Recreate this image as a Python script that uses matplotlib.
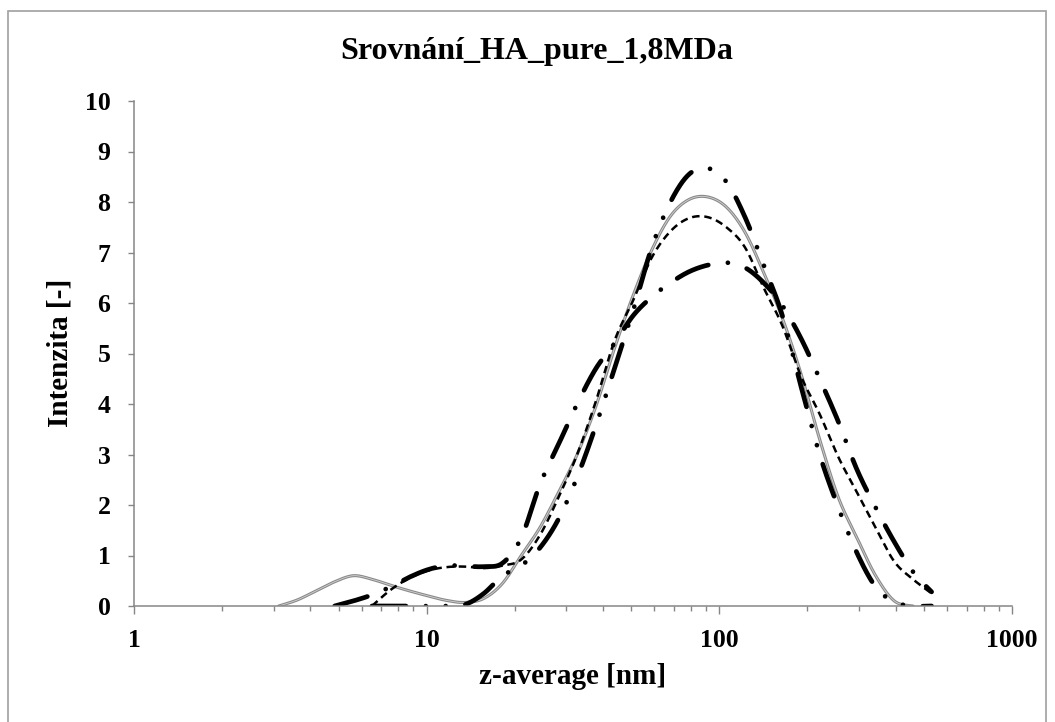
import numpy as np
import matplotlib
matplotlib.use("Agg")
import matplotlib.pyplot as plt
from matplotlib.patches import Rectangle

plt.rcParams['font.family'] = ['Liberation Serif', 'DejaVu Serif']
plt.rcParams['font.weight'] = 'bold'

title = 'Srovnání_HA_pure_1,8MDa'
x_label = 'z-average [nm]'
y_label = 'Intenzita [-]'

# size classes (nm)
sizes = [3.122, 3.615, 4.187, 4.849, 5.615, 6.503, 7.531, 8.721, 10.1, 11.7,
         13.54, 15.69, 18.17, 21.04, 24.36, 28.21, 32.67, 37.84, 43.82, 50.75,
         58.77, 68.06, 78.82, 91.28, 105.7, 122.4, 141.8, 164.2, 190.1, 220.2,
         255.0, 295.3, 342.0, 396.1, 458.7, 531.2]

# gray solid, sizes[0:35]
gray_y = [0, 0.12, 0.3, 0.48, 0.6, 0.53, 0.41, 0.3, 0.2, 0.11,
          0.07, 0.15, 0.45, 1.0, 1.55, 2.25, 3.0, 3.95, 5.1, 6.15,
          7.05, 7.72, 8.05, 8.1, 7.9, 7.4, 6.6, 5.7, 4.6, 3.3,
          2.15, 1.35, 0.6, 0.1, 0]

# thin dashed, sizes[5:36]
dash_y = [0, 0.32, 0.55, 0.7, 0.77, 0.78, 0.75, 0.8, 0.92, 1.4,
          2.15, 3.0, 4.05, 5.25, 6.05, 6.9, 7.42, 7.68, 7.7, 7.5,
          7.1, 6.3, 5.55, 4.55, 3.8, 2.95, 2.25, 1.55, 0.88, 0.53,
          0.25]

# long dash + dot, sizes[3:36]
dashdot_y = [0, 0.1, 0.22, 0.38, 0.57, 0.72, 0.8, 0.79, 0.78, 0.85,
             1.35, 2.4, 3.2, 4.0, 4.7, 5.2, 5.75, 6.12, 6.4, 6.62,
             6.75, 6.8, 6.7, 6.4, 5.95, 5.3, 4.5, 3.65, 2.7, 1.95,
             1.27, 0.68, 0.28]

# long dash + two dots, sizes[5:36]
dashdotdot_y = [0, 0, 0, 0, 0, 0.03, 0.25, 0.6, 0.8, 1.15,
                1.72, 2.55, 3.57, 4.7, 5.85, 7.1, 8.0, 8.55, 8.67, 8.4,
                7.7, 6.75, 5.75, 4.35, 3.0, 1.95, 1.05, 0.38, 0.08, 0,
                0]


def smooth(x, y, n=24):
    # Excel-like smoothed line (Catmull-Rom bezier in log-x / y space)
    p = np.column_stack([np.log10(x), y])
    ext = np.vstack([p[0], p, p[-1]])
    t = np.linspace(0, 1, n)[:, None]
    out = []
    for i in range(len(p) - 1):
        p0, p1, p2, p3 = ext[i], ext[i + 1], ext[i + 2], ext[i + 3]
        b1 = p1 + (p2 - p0) / 6
        b2 = p2 - (p3 - p1) / 6
        seg = ((1 - t) ** 3) * p1 + 3 * ((1 - t) ** 2) * t * b1 + 3 * (1 - t) * t ** 2 * b2 + t ** 3 * p2
        out.append(seg if i == 0 else seg[1:])
    out = np.vstack(out)
    return 10 ** out[:, 0], out[:, 1]


fig = plt.figure(figsize=(10.55, 7.22), dpi=100)
ax = fig.add_axes([134 / 1055, 116 / 722, 878 / 1055, 505 / 722])

xs, ys = smooth(sizes[0:35], gray_y)
ax.plot(xs, ys, color='#8a8a8a', lw=2.2, solid_capstyle='round')
ax.plot(xs, ys, color='#d2d2d2', lw=0.6)

xs, ys = smooth(sizes[5:36], dash_y)
ax.plot(xs, ys, color='black', lw=1.8, linestyle=(0, (3.0, 1.9)), dash_capstyle='butt')

xs, ys = smooth(sizes[3:36], dashdot_y)
ax.plot(xs, ys, color='black', lw=3.4, linestyle=(0, (7.2, 4.2, 0.01, 4.2)),
        dash_capstyle='round')

xs, ys = smooth(sizes[5:36], dashdotdot_y)
ax.plot(xs, ys, color='black', lw=3.4, linestyle=(0, (7.2, 4.2, 0.01, 4.2, 0.01, 4.2)),
        dash_capstyle='round')

ax.set_xscale('log')
ax.set_xlim(1, 1000)
ax.set_ylim(0, 10)
ax.set_yticks(range(0, 11))
ax.set_xticks([1, 10, 100, 1000])
ax.set_xticklabels(['1', '10', '100', '1000'])
ax.set_yticklabels([str(v) for v in range(0, 11)])

for side in ['top', 'right']:
    ax.spines[side].set_visible(False)
for side in ['left', 'bottom']:
    ax.spines[side].set_color('#868686')
    ax.spines[side].set_linewidth(1.1)

ax.tick_params(axis='x', which='major', direction='out', length=5.5, width=1.0,
               color='#868686', labelsize=18.5, pad=11)
ax.tick_params(axis='x', which='minor', direction='out', length=3.6, width=1.0,
               color='#868686')
ax.tick_params(axis='y', which='major', direction='out', length=4.5, width=1.0,
               color='#868686', labelsize=18.5, pad=12.5)
for lab in ax.get_xticklabels() + ax.get_yticklabels():
    lab.set_fontweight('bold')

fig.text(537 / 1055, 1 - 52 / 722, title, ha='center', va='center',
         fontsize=23, fontweight='bold')
fig.text(573 / 1055, 1 - 676 / 722, x_label, ha='center', va='center',
         fontsize=21, fontweight='bold')
fig.text(60 / 1055, 1 - 353 / 722, y_label, ha='center', va='center',
         rotation=90, fontsize=21, fontweight='bold')

fig.add_artist(Rectangle((8 / 1055, -0.01), 1038 / 1055, 1 - 11 / 722 + 0.01,
                         transform=fig.transFigure, fill=False,
                         edgecolor='#a0a0a0', lw=1.2))

fig.savefig('out.png', dpi=100)
